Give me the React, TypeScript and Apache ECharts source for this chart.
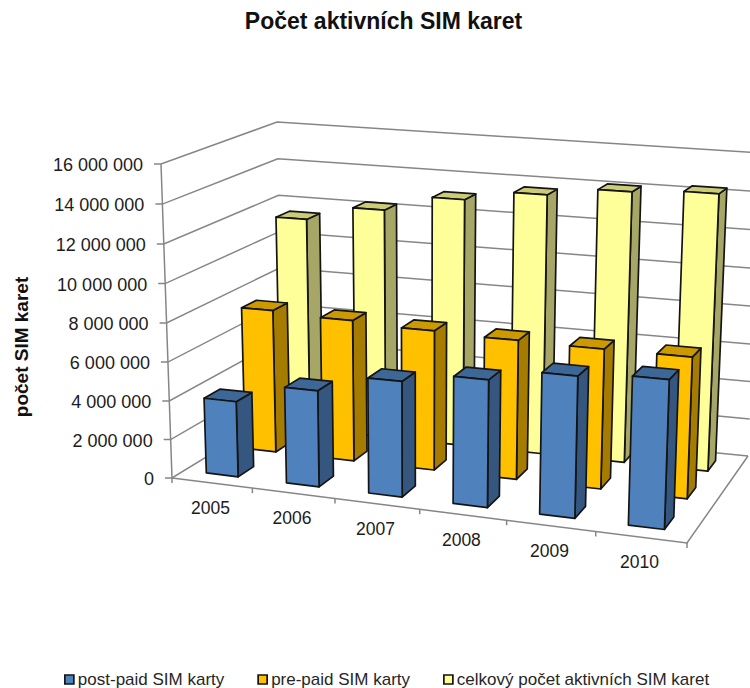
import React, { useEffect, useRef } from "react";
import * as echarts from "echarts";

const categories = ["2005", "2006", "2007", "2008", "2009", "2010"];
const postPaid = [3900000, 4900000, 5800000, 6300000, 6900000, 7150000];
const prePaid = [7530000, 7380000, 7230000, 7130000, 7080000, 7080000];
const total = [11450000, 12250000, 13100000, 13650000, 14100000, 14300000];
const yTicks = [0, 2000000, 4000000, 6000000, 8000000, 10000000, 12000000, 14000000, 16000000];
const yMax = 16000000;
const titleText = "Počet aktivních SIM karet";
const yName = "počet SIM karet";
const seriesNames = ["post-paid SIM karty", "pre-paid SIM karty", "celkový počet aktivních SIM karet"];
const FONT = "Liberation Sans, Arial, sans-serif";
const TEXT = "#1c1c1c";
const GRID = "#868686";

type Pt = [number, number];
// Screen corners of the 3D box: front-left, front-right, back-right, back-left
const floorQuad: Pt[] = [[172, 478], [687, 543], [748, 456], [283, 410]];
const topQuad: Pt[] = [[161, 164], [699, 196], [762, 153], [277, 122]];
const warpU = 0.076;
const warpV = 0.15;
const warpW = 0.025;
const barShiftU = -0.004;

function bilinear(q: Pt[], u: number, v: number): Pt {
  const lerp = (a: number, b: number, t: number) => a + (b - a) * t;
  const fx = lerp(q[0][0], q[1][0], u), fy = lerp(q[0][1], q[1][1], u);
  const bx = lerp(q[3][0], q[2][0], u), by = lerp(q[3][1], q[2][1], u);
  return [lerp(fx, bx, v), lerp(fy, by, v)];
}
// u: along categories, v: depth (front to back), w: height share
function project(u: number, v: number, w: number): Pt {
  const uu = u * (1 - warpU * (1 - u));
  const vv = v * (1 + warpV * (1 - v));
  const ww = w * (1 - warpW * (1 - w));
  const p = bilinear(floorQuad, uu, vv);
  const q = bilinear(topQuad, uu, vv);
  return [p[0] + (q[0] - p[0]) * ww, p[1] + (q[1] - p[1]) * ww];
}

const GAP = 1.5;
const nCat = categories.length;
const nRow = seriesNames.length;
const barU = 1 / nCat / (1 + GAP);
const barV = 1 / nRow / (1 + GAP);

function heightShare(api: any, params: any, catIdx: number, value: number) {
  const cs = params.coordSys;
  const py = api.coord([catIdx, value])[1];
  return (cs.y + cs.height - py) / cs.height;
}

function barRenderer(row: number, faces: { front: string; top: string; side: string }) {
  return (params: any, api: any) => {
    const i = api.value(0) as number;
    const w = heightShare(api, params, i, api.value(1) as number);
    const u0 = i / nCat + (GAP / 2) * barU + barShiftU;
    const u1 = u0 + barU;
    const v0 = row / nRow + (GAP / 2) * barV;
    const v1 = v0 + barV;
    const line = { stroke: "#141414", lineWidth: 1.7, lineJoin: "round" };
    const face = (pts: Pt[], fill: string) => ({
      type: "polygon",
      shape: { points: pts },
      style: { fill, ...line },
    });
    return {
      type: "group",
      children: [
        face([project(u1, v0, 0), project(u1, v1, 0), project(u1, v1, w), project(u1, v0, w)], faces.side),
        face([project(u0, v0, w), project(u1, v0, w), project(u1, v1, w), project(u0, v1, w)], faces.top),
        face([project(u0, v0, 0), project(u1, v0, 0), project(u1, v0, w), project(u0, v0, w)], faces.front),
      ],
    };
  };
}

function formatTick(v: number) {
  return String(v).replace(/\B(?=(\d{3})+(?!\d))/g, " ");
}

function wallRenderer(params: any, api: any) {
  const tick = api.value(1) as number;
  const w = heightShare(api, params, 0, tick);
  const a = project(0, 0, w);
  const b = project(0, 1, w);
  const c = project(1, 1, w);
  const children: any[] = [
    { type: "polyline", shape: { points: [[a[0] - 7, a[1]], a, b, c] }, style: { stroke: GRID, lineWidth: 1.5, fill: "none" } },
    {
      type: "text",
      style: { text: formatTick(tick), x: a[0] - 18, y: a[1] + 1, align: "right", verticalAlign: "middle", fill: TEXT, font: `18px ${FONT}` },
    },
  ];
  return { type: "group", children };
}

function frameRenderer(params: any, api: any) {
  const i = api.value(0) as number;
  const children: any[] = [];
  const p = project((i + 1) / nCat, 0, 0);
  children.push({ type: "line", shape: { x1: p[0], y1: p[1], x2: p[0], y2: p[1] + 5 }, style: { stroke: GRID, lineWidth: 1.5 } });
  const m = project((i + 0.5) / nCat, 0, 0);
  children.push({
    type: "text",
    style: { text: categories[i], x: m[0] - 1.5, y: m[1] + 25, align: "center", verticalAlign: "middle", fill: TEXT, font: `17.5px ${FONT}` },
  });
  if (i === 0) {
    const o = project(0, 0, 0);
    const t = project(0, 0, 1);
    const e = project(1, 0, 0);
    const r = project(1, 1, 0);
    children.push({ type: "line", shape: { x1: o[0], y1: o[1], x2: t[0], y2: t[1] }, style: { stroke: GRID, lineWidth: 1.5 } });
    children.push({ type: "line", shape: { x1: o[0], y1: o[1], x2: o[0], y2: o[1] + 5 }, style: { stroke: GRID, lineWidth: 1.5 } });
    children.push({ type: "polyline", shape: { points: [o, e, r] }, style: { stroke: GRID, lineWidth: 1.5, fill: "none" } });
  }
  return { type: "group", children };
}

const faceColors = [
  { front: "#4F81BD", top: "#3C6796", side: "#34567F" },
  { front: "#FFC000", top: "#CC9900", side: "#A67C00" },
  { front: "#FFFF99", top: "#CCCC77", side: "#A6A666" },
];
const rows = [postPaid, prePaid, total];

export default function App() {
  const ref = useRef<HTMLDivElement>(null);
  useEffect(() => {
    document.body.style.margin = "0";
    const chart = echarts.init(ref.current!, undefined, { renderer: "svg" });
    const base = { type: "custom", coordinateSystem: "cartesian2d", clip: false, silent: true, encode: { x: 0, y: 1 } };
    chart.setOption({
      animation: false,
      backgroundColor: "#ffffff",
      title: {
        text: titleText,
        left: 378.5,
        top: 4,
        textAlign: "center",
        textStyle: { fontFamily: FONT, fontSize: 23, fontWeight: "bold", color: "#111" },
      },
      grid: { left: 161, top: 163, width: 526, height: 315 },
      xAxis: { type: "category", data: categories, show: false },
      yAxis: { type: "value", min: 0, max: yMax, interval: 2000000, show: false },
      legend: {
        data: seriesNames,
        left: 64,
        top: 671,
        padding: 0,
        itemWidth: 9,
        itemHeight: 9,
        itemGap: 33,
        icon: "rect",
        selectedMode: false,
        itemStyle: { borderColor: "#141414", borderWidth: 1.7 },
        textStyle: { fontFamily: FONT, fontSize: 17, color: "#262626", padding: [0, 0, 0, -1] },
      },
      graphic: [
        {
          type: "text",
          x: 21,
          y: 347,
          rotation: Math.PI / 2,
          style: { text: yName, align: "center", verticalAlign: "middle", fill: "#111", font: `bold 19px ${FONT}` },
        },
      ],
      series: [
        { ...base, name: "osa-y", z: 1, data: yTicks.map((t) => [0, t]), renderItem: wallRenderer },
        { ...base, name: "osa-x", z: 1, data: categories.map((_, i) => [i, 0]), renderItem: frameRenderer },
        ...[2, 1, 0].map((r) => ({
          ...base,
          name: seriesNames[r],
          z: 5 - r,
          itemStyle: { color: faceColors[r].front },
          data: rows[r].map((v, i) => [i, v]),
          renderItem: barRenderer(r, faceColors[r]),
        })),
      ],
    });
    return () => chart.dispose();
  }, []);
  return <div ref={ref} style={{ width: 750, height: 688 }} />;
}
